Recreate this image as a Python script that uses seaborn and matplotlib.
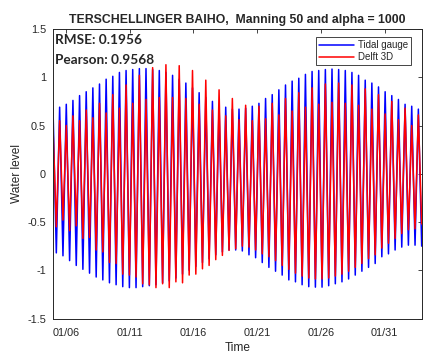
import numpy as np
import pandas as pd
import matplotlib
matplotlib.use("Agg")
import matplotlib.pyplot as plt
import seaborn as sns

# High-water and low-water levels for each tide (m), tidal gauge vs. Delft 3D model
gauge_high = [0.68, 0.69, 0.72, 0.76, 0.81, 0.85, 0.89, 0.93, 0.98, 1.01,
              1.05, 1.07, 1.08, 1.09, 1.09, 1.08, 1.07, 1.05, 1.02, 0.98,
              0.94, 0.89, 0.84, 0.79, 0.75, 0.71, 0.69, 0.67, 0.67, 0.68,
              0.70, 0.73, 0.78, 0.82, 0.87, 0.92, 0.96, 0.99, 1.03, 1.06,
              1.07, 1.08, 1.085, 1.08, 1.07, 1.05, 1.02, 0.97, 0.94, 0.90,
              0.85, 0.81, 0.77, 0.72, 0.70, 0.67]
gauge_low = [-0.82, -0.85, -0.90, -0.95, -0.99, -1.03, -1.07, -1.10, -1.13, -1.15,
             -1.17, -1.18, -1.18, -1.17, -1.16, -1.15, -1.13, -1.11, -1.08, -1.04,
             -1.00, -0.96, -0.92, -0.88, -0.84, -0.81, -0.79, -0.79, -0.80, -0.84,
             -0.87, -0.92, -0.97, -1.01, -1.05, -1.10, -1.12, -1.15, -1.17, -1.175,
             -1.175, -1.16, -1.14, -1.12, -1.09, -1.05, -1.01, -0.97, -0.93, -0.86,
             -0.83, -0.79, -0.76, -0.74, -0.74, -0.75]
model_high = [0.48, 0.55, 0.50, 0.60, 0.55, 0.66, 0.58, 0.73, 0.63, 0.82,
              0.68, 0.92, 0.73, 1.02, 0.77, 1.10, 0.79, 1.13, 0.79, 1.12,
              0.78, 1.07, 0.72, 0.97, 0.66, 0.87, 0.60, 0.78, 0.56, 0.71,
              0.55, 0.70, 0.57, 0.73, 0.61, 0.78, 0.65, 0.84, 0.69, 0.89,
              0.72, 0.93, 0.74, 0.94, 0.73, 0.92, 0.71, 0.88, 0.67, 0.82,
              0.62, 0.75, 0.56, 0.68, 0.50, 0.61]
model_low = [-0.55, -0.48, -0.59, -0.54, -0.67, -0.66, -0.79, -0.81, -0.92, -0.93,
             -1.04, -1.05, -1.07, -1.14, -1.15, -1.18, -1.14, -1.18, -1.12, -1.13,
             -1.05, -1.04, -0.985, -0.95, -0.89, -0.846, -0.794, -0.777, -0.75, -0.76,
             -0.79, -0.83, -0.86, -0.90, -0.95, -0.99, -1.03, -1.06, -1.08, -1.09,
             -1.09, -1.08, -1.06, -1.04, -1.01, -0.97, -0.93, -0.88, -0.84, -0.77,
             -0.72, -0.67, -0.62, -0.58, -0.57, -0.52]

start_time = "2021-01-05 00:00"
tide_step = "375min"          # spacing between successive high and low waters
tick_dates = ["2021-01-06", "2021-01-11", "2021-01-16", "2021-01-21", "2021-01-26", "2021-01-31"]
tick_labels = ["01/06", "01/11", "01/16", "01/21", "01/26", "01/31"]
y_ticks = [-1.5, -1, -0.5, 0, 0.5, 1, 1.5]
y_tick_labels = ["-1.5", "-1", "-0.5", "0", "0.5", "1", "1.5"]

title = "TERSCHELLINGER BAIHO,  Manning 50 and alpha = 1000"
rmse_text = "RMSE: 0.1956"
pearson_text = "Pearson: 0.9568"

# Alternate high and low water into one series per source
gauge = np.column_stack([gauge_high, gauge_low]).ravel()
model = np.column_stack([model_high, model_low]).ravel()
times = pd.date_range(start_time, periods=len(gauge), freq=tide_step)
df = pd.DataFrame({"Time": times, "Tidal gauge": gauge, "Delft 3D": model})

sns.set_style("white")
plt.rcParams["font.family"] = ["Liberation Sans", "DejaVu Sans"]
plt.rcParams["axes.unicode_minus"] = False

axis_grey = "#262626"
fig = plt.figure(figsize=(4.25, 3.56), dpi=100)
ax = fig.add_axes([0.1247, 0.1053, 0.8675, 0.8132])

sns.lineplot(data=df, x="Time", y="Tidal gauge", color=(0, 0, 1), lw=1.1,
             ax=ax, label="Tidal gauge", estimator=None, sort=False)
sns.lineplot(data=df, x="Time", y="Delft 3D", color=(1, 0, 0), lw=1.1,
             ax=ax, label="Delft 3D", estimator=None, sort=False)

ax.set_xlim(times[0], times[-1])
ax.set_ylim(-1.5, 1.5)
ax.set_xticks(pd.to_datetime(tick_dates))
ax.set_xticklabels(tick_labels)
ax.set_yticks(y_ticks)
ax.set_yticklabels(y_tick_labels)
ax.tick_params(direction="in", length=3, width=0.6, top=True, right=True,
               labelsize=7.8, colors=axis_grey)
ax.tick_params(axis="x", pad=7)
ax.tick_params(axis="y", pad=5)
for s in ax.spines.values():
    s.set_color(axis_grey)
    s.set_linewidth(0.7)

ax.set_xlabel("Time", fontsize=8.6, color=axis_grey, labelpad=3)
ax.set_ylabel("Water level", fontsize=8.6, color=axis_grey, labelpad=3)
ax.set_title(title, fontsize=8.8, fontweight="bold", pad=4)

ax.text(0.006, 0.984, rmse_text, transform=ax.transAxes, ha="left", va="top",
        fontsize=9.8, fontweight="bold", family=["Lato", "DejaVu Sans"])
ax.text(0.006, 0.914, pearson_text, transform=ax.transAxes, ha="left", va="top",
        fontsize=9.8, fontweight="bold", family=["Lato", "DejaVu Sans"])

leg = ax.legend(loc="upper right", fontsize=7, frameon=True, fancybox=False,
                edgecolor=axis_grey, framealpha=1, handlelength=3.6,
                handletextpad=0.4, borderpad=0.3, labelspacing=0.25,
                borderaxespad=0, bbox_to_anchor=(0.971, 0.972))
leg.get_frame().set_linewidth(0.6)

fig.savefig("out.png", dpi=100)
